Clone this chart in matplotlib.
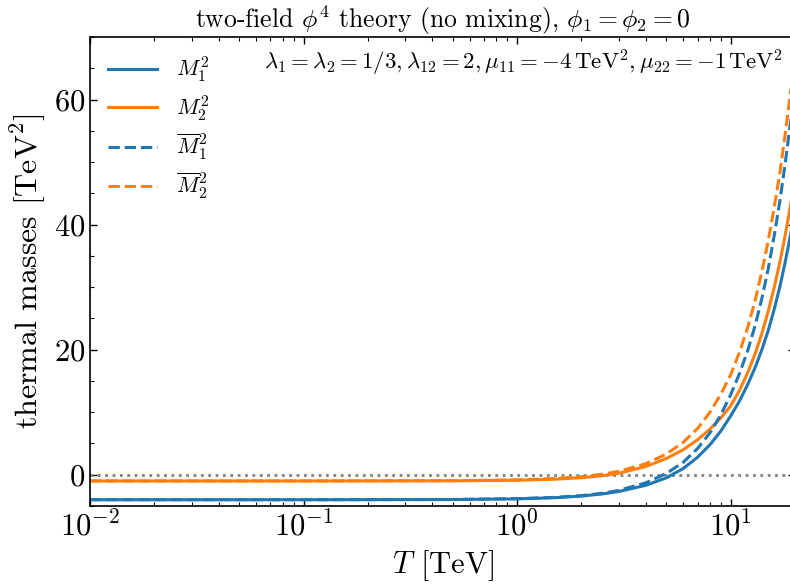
import matplotlib
matplotlib.use("Agg")
import matplotlib.pyplot as plt
from matplotlib.ticker import MultipleLocator, LogLocator, NullFormatter

plt.rcParams.update({
    "font.family": "serif",
    "font.serif": ["cmr10"],
    "mathtext.fontset": "cm",
    "axes.formatter.use_mathtext": True,
    "axes.unicode_minus": True,
})

# Temperature grid [TeV]
T = [0.01, 0.1, 0.5, 1.0, 1.5, 2.0, 2.5, 3.0, 4.0, 5.0, 6.0, 7.0, 8.0, 9.0,
     10.0, 11.0, 12.0, 13.0, 14.0, 15.0, 16.0, 17.0, 18.0, 19.0, 20.0]

# Resummed thermal masses [TeV^2]
M1_sq = [-4.0, -4.0, -3.97, -3.86, -3.68, -3.42, -3.08, -2.68, -1.7, -0.5,
         1.0, 2.8, 4.8, 7.0, 9.4, 11.8, 14.4, 17.1, 20.0, 23.1, 26.5, 30.1,
         34.0, 38.1, 42.5]
M2_sq = [-1.0, -1.0, -0.97, -0.88, -0.72, -0.48, -0.17, 0.25, 1.3, 2.6,
         4.0, 5.6, 7.3, 9.1, 11.0, 13.5, 16.3, 19.3, 22.6, 26.2, 30.0, 34.0,
         38.3, 42.8, 47.5]

# Leading-order thermal masses [TeV^2]
M1bar_sq = [-4.0, -4.0, -3.96, -3.83, -3.63, -3.34, -2.97, -2.5, -1.3, 0.2,
            2.0, 4.2, 6.7, 9.6, 12.8, 16.2, 19.8, 23.8, 28.2, 33.0, 38.3,
            43.8, 49.8, 56.0, 62.5]
M2bar_sq = [-1.0, -1.0, -0.96, -0.83, -0.61, -0.31, 0.08, 0.55, 1.75, 3.3,
            5.2, 7.4, 10.0, 12.9, 16.0, 19.6, 23.5, 27.8, 32.5, 37.5, 42.8,
            48.3, 54.5, 60.8, 67.0]

labels = [r"$M_1^2$", r"$M_2^2$", r"$\overline{M}_1^2$", r"$\overline{M}_2^2$"]
blue, orange = "#1f77b4", "#ff7f0e"

fig = plt.figure(figsize=(7.9, 5.88), dpi=100)
ax = fig.add_axes([0.1139, 0.1395, 0.8924, 0.7975])

ax.axhline(0, color="gray", ls=":", lw=2)
ax.plot(T, M1_sq, color=blue, lw=2.2, label=labels[0])
ax.plot(T, M2_sq, color=orange, lw=2.2, label=labels[1])
ax.plot(T, M1bar_sq, color=blue, lw=2.2, ls="--", label=labels[2])
ax.plot(T, M2bar_sq, color=orange, lw=2.2, ls="--", label=labels[3])

ax.set_xscale("log")
ax.set_xlim(0.01, 20)
ax.set_ylim(-5, 70)
ax.yaxis.set_major_locator(MultipleLocator(20))
ax.yaxis.set_minor_locator(MultipleLocator(5))
ax.xaxis.set_minor_locator(LogLocator(base=10, subs=range(2, 10), numticks=20))
ax.xaxis.set_minor_formatter(NullFormatter())

ax.tick_params(which="both", direction="in", top=True, right=True,
               labelsize=22)
ax.tick_params(which="major", length=5, width=1)
ax.tick_params(which="minor", length=3, width=0.8)
for s in ax.spines.values():
    s.set_linewidth(1.2)

ax.set_xlabel(r"$T$ [TeV]", fontsize=22)
ax.set_ylabel(r"thermal masses [TeV$^2$]", fontsize=23)
ax.set_title(r"two-field $\phi^4$ theory (no mixing), $\phi_1=\phi_2=0$",
             fontsize=18.5)
ax.text(0.983, 0.944,
        r"$\lambda_1=\lambda_2=1/3, \lambda_{12}=2, \mu_{11}=-4\,\mathrm{TeV}^2, \mu_{22}=-1\,\mathrm{TeV}^2$",
        transform=ax.transAxes, ha="right", va="center", fontsize=16.5)

ax.legend(loc="upper left", frameon=False, fontsize=16, handlelength=2.2,
          handletextpad=0.85, labelspacing=0.4, borderaxespad=0.4)

fig.savefig("out.png", dpi=100)
